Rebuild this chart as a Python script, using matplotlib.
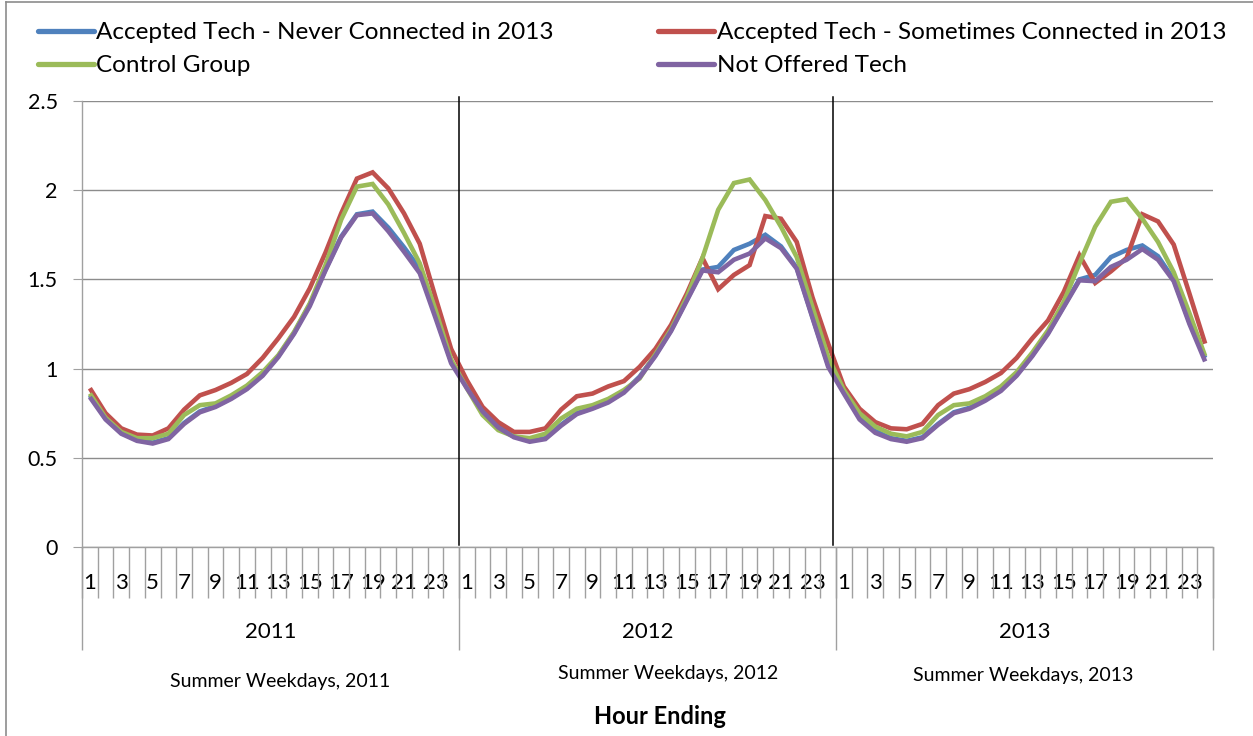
import matplotlib
matplotlib.use("Agg")
import matplotlib.pyplot as plt
from matplotlib.lines import Line2D
import numpy as np

plt.rcParams['font.family'] = ['Lato', 'DejaVu Sans']

years = ["2011", "2012", "2013"]
hours = list(range(1, 25))
subtitles = ["Summer Weekdays, 2011", "Summer Weekdays, 2012", "Summer Weekdays, 2013"]
series_names = ["Accepted Tech - Never Connected in 2013",
                "Accepted Tech - Sometimes Connected in 2013",
                "Control Group",
                "Not Offered Tech"]

never_connected = [
    0.85, 0.72, 0.64, 0.60, 0.585, 0.61, 0.695, 0.76, 0.79, 0.835, 0.89, 0.965,
    1.07, 1.20, 1.36, 1.555, 1.74, 1.865, 1.88, 1.79, 1.68, 1.56, 1.30, 1.04,
    0.90, 0.77, 0.675, 0.62, 0.595, 0.61, 0.685, 0.75, 0.78, 0.815, 0.87, 0.955,
    1.075, 1.215, 1.385, 1.555, 1.57, 1.665, 1.70, 1.75, 1.685, 1.565, 1.29, 1.02,
    0.87, 0.725, 0.65, 0.61, 0.595, 0.615, 0.69, 0.755, 0.78, 0.825, 0.88, 0.965,
    1.075, 1.20, 1.35, 1.50, 1.525, 1.625, 1.665, 1.69, 1.63, 1.50, 1.26, 1.06]

sometimes_connected = [
    0.89, 0.75, 0.665, 0.63, 0.625, 0.665, 0.77, 0.85, 0.88, 0.92, 0.97, 1.06,
    1.17, 1.29, 1.45, 1.65, 1.87, 2.065, 2.10, 2.01, 1.87, 1.70, 1.40, 1.11,
    0.935, 0.785, 0.70, 0.645, 0.645, 0.665, 0.77, 0.845, 0.86, 0.90, 0.93, 1.01,
    1.11, 1.245, 1.42, 1.62, 1.445, 1.525, 1.58, 1.855, 1.84, 1.71, 1.40, 1.14,
    0.90, 0.775, 0.70, 0.665, 0.66, 0.69, 0.795, 0.86, 0.885, 0.925, 0.975, 1.06,
    1.17, 1.27, 1.43, 1.635, 1.48, 1.545, 1.62, 1.865, 1.825, 1.695, 1.42, 1.14]

control_group = [
    0.86, 0.725, 0.645, 0.61, 0.61, 0.635, 0.74, 0.795, 0.805, 0.85, 0.905, 0.98,
    1.075, 1.205, 1.365, 1.58, 1.835, 2.02, 2.035, 1.92, 1.76, 1.59, 1.33, 1.05,
    0.89, 0.74, 0.655, 0.62, 0.61, 0.635, 0.72, 0.775, 0.795, 0.83, 0.88, 0.945,
    1.08, 1.22, 1.40, 1.62, 1.89, 2.04, 2.06, 1.945, 1.795, 1.625, 1.345, 1.065,
    0.88, 0.75, 0.675, 0.635, 0.62, 0.645, 0.74, 0.795, 0.805, 0.845, 0.90, 0.98,
    1.09, 1.215, 1.375, 1.59, 1.795, 1.935, 1.95, 1.84, 1.71, 1.54, 1.31, 1.07]

not_offered = [
    0.84, 0.715, 0.635, 0.595, 0.58, 0.605, 0.69, 0.755, 0.785, 0.83, 0.885, 0.96,
    1.065, 1.195, 1.35, 1.55, 1.735, 1.86, 1.87, 1.77, 1.655, 1.535, 1.285, 1.03,
    0.89, 0.76, 0.67, 0.615, 0.59, 0.605, 0.68, 0.745, 0.775, 0.81, 0.865, 0.95,
    1.07, 1.21, 1.38, 1.55, 1.54, 1.61, 1.645, 1.73, 1.675, 1.56, 1.285, 1.01,
    0.86, 0.715, 0.64, 0.605, 0.59, 0.61, 0.685, 0.75, 0.775, 0.82, 0.875, 0.96,
    1.07, 1.195, 1.345, 1.495, 1.49, 1.57, 1.61, 1.67, 1.61, 1.49, 1.25, 1.04]

colors = ["#4F81BD", "#C0504D", "#9BBB59", "#8064A2"]
GRID = "#8C8C8C"
AX = "#A0A0A0"

W, H = 1253, 736
fig = plt.figure(figsize=(W / 100, H / 100), dpi=100)
left, right, bottom, top = 82, 1213, 547, 101
ax = fig.add_axes([left / W, 1 - bottom / H, (right - left) / W, (bottom - top) / H])

n = len(years) * len(hours)
x = np.arange(n)
for vals, c, name in zip([never_connected, sometimes_connected, control_group, not_offered],
                         colors, series_names):
    ax.plot(x, vals, color=c, lw=3.3, label=name, solid_joinstyle='miter', solid_capstyle='butt')

ax.set_xlim(-0.5, n - 0.5)
ax.set_ylim(0, 2.5)
ax.set_yticks([0, 0.5, 1, 1.5, 2, 2.5])
ax.set_yticklabels(["0", "0.5", "1", "1.5", "2", "2.5"])
ax.yaxis.grid(True, color=GRID, lw=1.0)
ax.set_axisbelow(True)
for s in ["top", "right"]:
    ax.spines[s].set_visible(False)
for s in ["left", "bottom"]:
    ax.spines[s].set_color(AX)
    ax.spines[s].set_linewidth(1.0)
ax.tick_params(axis='y', which='major', direction='out', length=6.5, color=AX,
               labelsize=15.5, pad=11)

# hour labels on odd hours
hour_pos = [yi * 24 + (h - 1) for yi in range(len(years)) for h in hours if h % 2 == 1]
hour_lab = [str(h) for yi in range(len(years)) for h in hours if h % 2 == 1]
ax.set_xticks(hour_pos)
ax.set_xticklabels(hour_lab)
ax.set_xticks(np.arange(-0.5, n, 1.0), minor=True)
ax.tick_params(axis='x', which='major', length=0, labelsize=16, pad=19)
ax.tick_params(axis='x', which='minor', direction='out', length=36.7, color=AX, width=1.0)

# year level
sec = ax.secondary_xaxis('bottom')
sec.set_xticks([yi * 24 - 0.5 for yi in range(len(years) + 1)])
sec.set_xticklabels([])
sec.tick_params(length=74, color=AX, width=1.0)
sec.spines['bottom'].set_visible(False)
sec2 = ax.secondary_xaxis('bottom')
sec2.set_xticks([yi * 24 + 11.5 for yi in range(len(years))])
sec2.set_xticklabels(years)
sec2.tick_params(length=0, labelsize=16, pad=54)
sec2.spines['bottom'].set_visible(False)

# black separators
for xs in [23.5, 47.3]:
    ax.axvline(xs, ymin=0.004, ymax=1.009, color='black', lw=1.1, clip_on=False)

# subtitles
sub_pos = [(280, 682), (668, 673), (1023, 675)]
for (px, py), t in zip(sub_pos, subtitles):
    fig.text(px / W, 1 - py / H, t, ha='center', va='center', fontsize=14)
fig.text(660 / W, 1 - 716 / H, "Hour Ending", ha='center', va='center', fontsize=17,
         fontweight='bold')

handles, labels = ax.get_legend_handles_labels()
order = [0, 2, 1, 3]
leg = ax.legend([handles[i] for i in order], [labels[i] for i in order],
                loc='upper left', bbox_to_anchor=(38 / W, 1 - 22 / H),
                bbox_transform=fig.transFigure, ncol=2, frameon=False, fontsize=17.5,
                handlelength=2.3, handletextpad=0.1, columnspacing=4.3,
                labelspacing=0.5, borderaxespad=0, borderpad=0)
for lh in leg.get_lines():
    lh.set_linewidth(3.8)
    lh.set_solid_capstyle('round')

# chart-area border (top and left)
fig.add_artist(Line2D([6 / W, 6 / W], [0, 1 - 2 / H], color=GRID, lw=1.2, transform=fig.transFigure))
fig.add_artist(Line2D([6 / W, 1], [1 - 2 / H, 1 - 2 / H], color=GRID, lw=1.2, transform=fig.transFigure))

fig.savefig("out.png", dpi=100)
